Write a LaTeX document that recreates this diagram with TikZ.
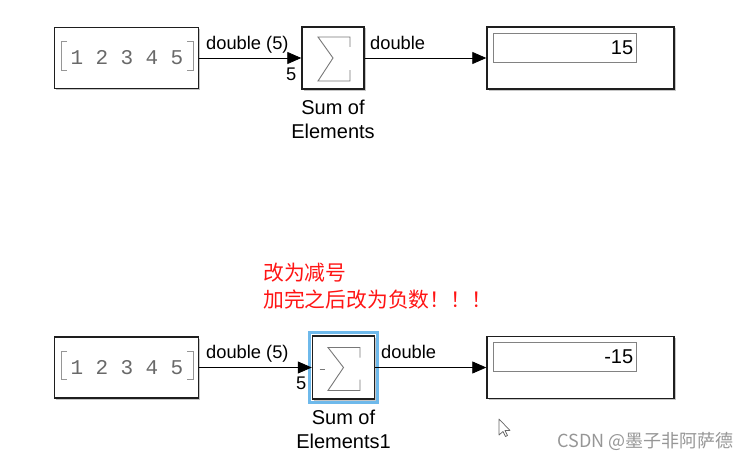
\documentclass[tikz,border=0pt]{standalone}
\usepackage{fontspec}
\setmainfont{Liberation Sans}
\setmonofont{Liberation Mono}
\newfontfamily\cjk{Noto Sans CJK SC}
\usetikzlibrary{arrows.meta,shadows}
\definecolor{blockedge}{RGB}{30,30,30}
\definecolor{digitgray}{RGB}{105,105,105}
\definecolor{sigmagray}{RGB}{120,120,120}
\definecolor{fieldgray}{RGB}{130,130,130}
\definecolor{selblue}{RGB}{110,185,235}
\definecolor{notered}{RGB}{255,20,20}
\definecolor{markgray}{RGB}{150,150,150}
\begin{document}
\begin{tikzpicture}[x=1pt,y=-1pt,
  block/.style={draw=blockedge, line width=1.4pt, fill=white, inner sep=0pt,
    drop shadow={shadow xshift=1.5pt,shadow yshift=-1.5pt,opacity=0.45}},
  field/.style={draw=fieldgray, line width=0.8pt, fill=white, inner sep=0pt,
    minimum width=143, minimum height=29},
  wire/.style={line width=0.8pt, -{Triangle[length=14pt,width=12pt]}},
  siglabel/.style={font=\fontsize{18.3}{20}\selectfont, inner sep=0pt},
  portlabel/.style={font=\fontsize{18.3}{20}\selectfont, inner sep=0pt},
  blkname/.style={font=\fontsize{20}{24}\selectfont, inner sep=0pt, anchor=base},
  valtext/.style={font=\fontsize{20}{24}\selectfont, inner sep=0pt, anchor=east},
  digit/.style={font=\ttfamily\fontsize{21}{24}\selectfont, text=digitgray, inner sep=0pt, anchor=base},
  bracket/.style={draw=markgray, line width=1pt},
  sigma/.style={draw=sigmagray, line width=0.9pt, line join=miter},
  note/.style={font=\cjk\fontsize{20.8}{24}\selectfont, text=notered, inner sep=0pt, anchor=base west},
]
\useasboundingbox (0,0) rectangle (749,460);

% ===== top row =====
\node[block, minimum width=144, minimum height=61] (const1) at (126.5,58) {};
\node[block, minimum width=62, minimum height=62] (sum1) at (333,58) {};
\node[block, minimum width=187, minimum height=62] (disp1) at (580.5,58) {};
\node[field] (f1) at (564.5,47.5) {};
\node[valtext] (v1) at ([xshift=-3pt]f1.east) {15};

\foreach \d [count=\i] in {1,...,5}
  \node[digit] (c1d\i) at (52+25*\i,65) {\d};
\draw[bracket] (67,42) -- (61,42) -- (61,70) -- (67,70);
\draw[bracket] (187,42) -- (193,42) -- (193,70) -- (187,70);

\begin{scope}[shift={(sum1.center)}]
  \draw[sigma] (17,-11) -- (17,-21) -- (-15,-21) -- (0,0) -- (-15,23) -- (17,23) -- (17,12);
\end{scope}

\draw[wire] (const1.east) -- (sum1.west);
\draw[wire] (sum1.east) -- (disp1.west);
\node[siglabel, anchor=base west] (l1a) at (206,49) {double (5)};
\node[portlabel, anchor=base west] (p1) at (286,80) {5};
\node[siglabel, anchor=base west] (l1b) at (370,49) {double};
\node[blkname] (n1a) at (333,114) {Sum of};
\node[blkname] (n1b) at (333,138) {Elements};

% ===== note =====
\node[note] (note1) at (263,280) {改为减号};
\node[note] (note2) at (263,307) {加完之后改为负数！！！};

% ===== bottom row =====
\node[block, minimum width=144, minimum height=61] (const2) at (126.5,367.5) {};
\node[block, minimum width=62, minimum height=63] (sum2) at (343.5,367.5) {};
\draw[selblue, line width=3pt] ([shift={(-2.5pt,2.5pt)}]sum2.north west) rectangle ([shift={(2.5pt,-2.5pt)}]sum2.south east);
\node[block, minimum width=187, minimum height=62] (disp2) at (580.5,367.5) {};
\node[field] (f2) at (564.5,357) {};
\node[valtext] (v2) at ([xshift=-3pt]f2.east) {-15};

\foreach \d [count=\i] in {1,...,5}
  \node[digit] (c2d\i) at (52+25*\i,374.5) {\d};
\draw[bracket] (67,351.5) -- (61,351.5) -- (61,379.5) -- (67,379.5);
\draw[bracket] (187,351.5) -- (193,351.5) -- (193,379.5) -- (187,379.5);

\begin{scope}[shift={(sum2.center)}]
  \draw[sigma] (16.5,-10) -- (16.5,-20) -- (-15.5,-20) -- (0,0) -- (-15.5,23) -- (16.5,23) -- (16.5,12);
  \draw[sigma] (-24,1.5) -- (-18.5,1.5);
\end{scope}

\draw[wire] (const2.east) -- (sum2.west);
\draw[wire] (sum2.east) -- (disp2.west);
\node[siglabel, anchor=base west] (l2a) at (206,358) {double (5)};
\node[portlabel, anchor=base west] (p2) at (296,389) {5};
\node[siglabel, anchor=base west] (l2b) at (381,358) {double};
\node[blkname] (n2a) at (343.5,424) {Sum of};
\node[blkname] (n2b) at (343.5,448) {Elements1};

% ===== cursor and watermark =====
\draw[fill=white, draw=black!60, line width=0.7pt, line join=round]
  (499,419) -- (499,435) -- (503,431.5) -- (505.5,436.5) -- (507.5,435.5) -- (505,430.5) -- (510,430.5) -- cycle;
\node[font=\cjk\fontsize{18}{20}\selectfont, text=markgray, inner sep=0pt, anchor=base east] (wm) at (734,447) {CSDN @墨子非阿萨德};
\end{tikzpicture}
\end{document}
